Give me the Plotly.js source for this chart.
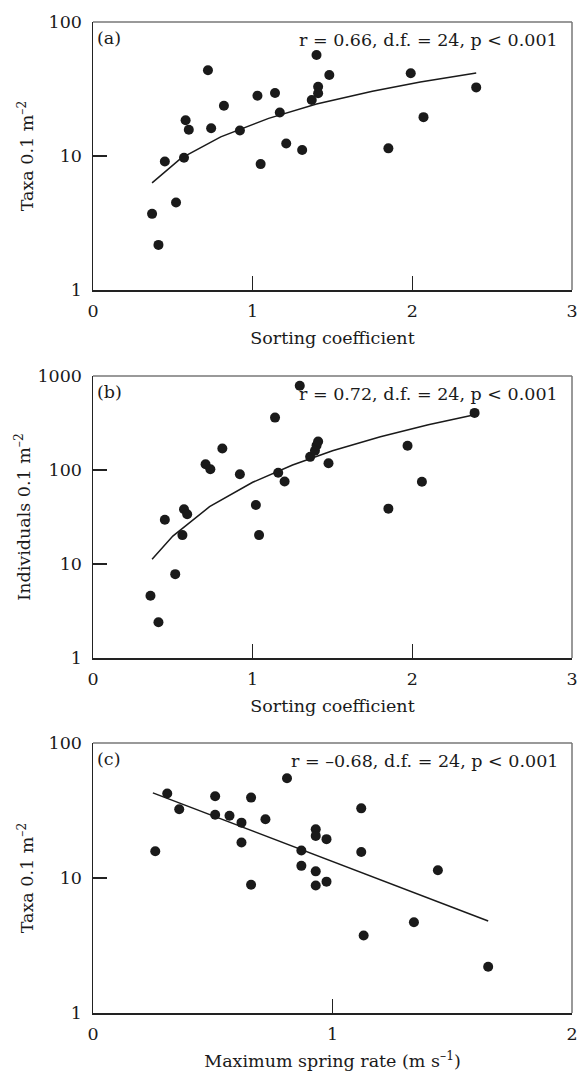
<!DOCTYPE html>
<html>
<head>
<meta charset="utf-8">
<script src="https://cdn.plot.ly/plotly-3.0.1.min.js"></script>
<style>html,body{margin:0;padding:0;background:#fff;}</style>
</head>
<body>
<div id="chart" style="width:579px;height:1072px;"></div>
<script>
// ---- Panel (a): taxa vs sorting coefficient ----
const sortingA = [0.37,0.41,0.45,0.52,0.57,0.58,0.60,0.72,0.74,0.82,0.92,1.03,1.05,1.14,1.17,1.21,1.31,1.37,1.40,1.41,1.41,1.48,1.85,1.99,2.07,2.40];
const taxaA    = [3.7,2.17,9.1,4.5,9.7,18.5,15.7,43.6,16.1,23.7,15.5,28.2,8.7,29.5,21.1,12.4,11.1,26.2,56.7,32.9,29.4,40.2,11.4,41.4,19.5,32.5];
const fitAx = [0.37,0.55,0.8,1.1,1.4,1.75,2.05,2.4];
const fitAy = [6.3,9.6,13.9,19.1,24.4,30.4,35.7,41.6];

// ---- Panel (b): individuals vs sorting coefficient ----
const sortingB = [0.36,0.41,0.45,0.515,0.56,0.57,0.59,0.705,0.735,0.81,0.92,1.02,1.04,1.14,1.16,1.20,1.295,1.36,1.39,1.40,1.41,1.475,1.85,1.97,2.06,2.39];
const indivB   = [4.6,2.4,29.6,7.8,20.3,38.2,33.8,115,102,169,90,42.5,20.3,361,93.6,75.6,787,138,160,182,201,118,38.8,181,75,405];
const fitBx = [0.37,0.5,0.73,1.0,1.25,1.5,1.8,2.1,2.39];
const fitBy = [11.2,19.8,40.7,74,113,160,226,303,387];

// ---- Panel (c): taxa vs maximum spring rate ----
const springC = [0.26,0.31,0.36,0.51,0.51,0.57,0.62,0.62,0.66,0.66,0.72,0.81,0.87,0.87,0.93,0.93,0.93,0.93,0.975,0.975,1.12,1.12,1.13,1.34,1.44,1.65];
const taxaC   = [15.8,42.2,32.3,40.3,29.4,28.9,25.7,18.3,39.4,8.9,27.2,54.8,16.0,12.3,23.0,20.5,11.2,8.8,19.4,9.4,32.8,15.6,3.75,4.7,11.4,2.2];
const fitCx = [0.25,1.65];
const fitCy = [42.7,4.8];

// tick labels
const sortTicks = [0,1,2,3];
const springTicks = [0,1,2];
const logTicks2 = [1,10,100];
const logTicks3 = [1,10,100,1000];

const panelLabels = ['(a)','(b)','(c)'];
const statTexts = ['r = 0.66, d.f. = 24, p < 0.001','r = 0.72, d.f. = 24, p < 0.001','r = –0.68, d.f. = 24, p < 0.001'];

const ink = '#1a1a1a';
const pts = {mode:'markers', type:'scatter', marker:{color:ink, size:10}, hoverinfo:'skip'};
const ln = {mode:'lines', type:'scatter', line:{color:ink, width:1.5}, hoverinfo:'skip'};

const data = [
  Object.assign({x:sortingA, y:taxaA, xaxis:'x', yaxis:'y'}, pts),
  Object.assign({x:fitAx, y:fitAy, xaxis:'x', yaxis:'y'}, ln),
  Object.assign({x:sortingB, y:indivB, xaxis:'x2', yaxis:'y2'}, pts),
  Object.assign({x:fitBx, y:fitBy, xaxis:'x2', yaxis:'y2'}, ln),
  Object.assign({x:springC, y:taxaC, xaxis:'x3', yaxis:'y3'}, pts),
  Object.assign({x:fitCx, y:fitCy, xaxis:'x3', yaxis:'y3'}, ln)
];

function xax(range, ticks, title, anchor){
  return {anchor:anchor, domain:[0,1], range:range, tickvals:ticks, ticktext:ticks.map(String),
    showline:true, mirror:false, linecolor:'#222', linewidth:1.5, ticks:'inside', ticklen:14,
    tickcolor:'#222', tickwidth:1.2, showgrid:false, zeroline:false, ticklabelstandoff:4,
    title:{text:title, standoff:12, font:{size:17.5}}};
}
function yax(domain, range, ticks, title, anchor, standoff){
  return {anchor:anchor, domain:domain, type:'log', range:range, tickvals:ticks, ticktext:ticks.map(String),
    showline:true, mirror:false, linecolor:'#222', linewidth:1.5, ticks:'inside', ticklen:14,
    tickcolor:'#222', tickwidth:1.2, showgrid:false, zeroline:false, ticklabelstandoff:6,
    title:{text:title, standoff:standoff, font:{size:17.5}}};
}

const H = 1072;
const dA = [1-290/H, 1-22/H];
const dB = [1-658/H, 1-376/H];
const dC = [1-1013/H, 1-743/H];

const annotations = [];
const shapes = [];
['',"2","3"].forEach((s,i)=>{
  annotations.push({xref:'x'+s+' domain', yref:'y'+s+' domain', x:0, y:1, xanchor:'left', yanchor:'top',
    xshift:2, yshift:-4, text:panelLabels[i], showarrow:false, font:{size:17.5, color:ink}});
  annotations.push({xref:'x'+s+' domain', yref:'y'+s+' domain', x:0.975, y:1, xanchor:'right', yanchor:'top',
    yshift:-6, text:statTexts[i], showarrow:false, font:{size:17.5, color:ink}});
  // lighter top and right frame lines
  shapes.push({type:'line', xref:'x'+s+' domain', yref:'y'+s+' domain', x0:0, x1:1, y0:1, y1:1,
    line:{color:'#777', width:1.5}, layer:'below'});
  shapes.push({type:'line', xref:'x'+s+' domain', yref:'y'+s+' domain', x0:1, x1:1, y0:0, y1:1,
    line:{color:'#777', width:1.5}, layer:'below'});
});

const layout = {
  width:579, height:1072, margin:{l:93, r:7, t:0, b:0},
  font:{family:'DejaVu Serif, serif', size:17.5, color:ink},
  paper_bgcolor:'#fff', plot_bgcolor:'#fff', showlegend:false,
  xaxis: xax([0,3], sortTicks, 'Sorting coefficient', 'y'),
  yaxis: yax(dA, [0,2], logTicks2, 'Taxa 0.1 m<sup>–2</sup>', 'x', 10),
  xaxis2: xax([0,3], sortTicks, 'Sorting coefficient', 'y2'),
  yaxis2: yax(dB, [0,3], logTicks3, 'Individuals 0.1 m<sup>–2</sup>', 'x2', 2),
  xaxis3: xax([0,2], springTicks, 'Maximum spring rate (m s<sup>–1</sup>)', 'y3'),
  yaxis3: yax(dC, [0,2], logTicks2, 'Taxa 0.1 m<sup>–2</sup>', 'x3', 10),
  annotations: annotations,
  shapes: shapes
};

Plotly.newPlot('chart', data, layout, {staticPlot:true, displayModeBar:false});
</script>
</body>
</html>
